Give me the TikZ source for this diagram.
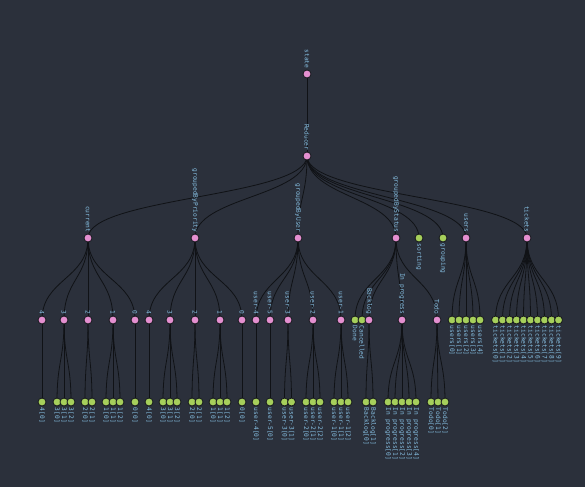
\documentclass[tikz,border=0pt]{standalone}
\usepackage{fontspec}
\setmonofont{DejaVu Sans Mono}
\usetikzlibrary{calc}
\pgfdeclarelayer{back}
\pgfdeclarelayer{bg}
\pgfsetlayers{back,bg,main}
\definecolor{bgc}{HTML}{2B303B}
\definecolor{pinkc}{HTML}{E48FD0}
\definecolor{greenc}{HTML}{A6CF5B}
\definecolor{edgec}{HTML}{101216}
\definecolor{lblc}{HTML}{86BFE2}
\definecolor{rimc}{HTML}{16181D}
\tikzset{
 dot/.style={circle,draw=rimc,line width=0.8pt,minimum size=8pt,inner sep=0pt},
 inn/.style={dot,fill=pinkc},
 lf/.style={dot,fill=greenc},
 lbl/.style={font=\ttfamily\fontsize{6.2}{6.2}\selectfont,text=lblc,inner sep=1.2pt,rotate=-90},
 lblup/.style={lbl,anchor=east},
 lbldn/.style={lbl,anchor=west},
 edge/.style={draw=edgec,line width=0.8pt},
}
\newcommand\IN[4]{\node[inn,label={[lblup]above:{#4}}] (#1) at (#2,#3) {};}
\newcommand\LF[4]{\node[lf,label={[lbldn]below:{#4}}] (#1) at (#2,#3) {};}
\newcommand\LK[2]{\draw[edge] (#1.center) .. controls ($(#1.center)+(0,41)$) and ($(#2.center)+(0,-41)$) .. (#2.center);}
\begin{document}
\begin{tikzpicture}[x=1pt,y=-1pt]
\useasboundingbox (0,0) rectangle (585,487);
\begin{pgfonlayer}{back}
\fill[bgc] (0,0) rectangle (585,487);
\end{pgfonlayer}
% level 0,1
\IN{st}{307}{74}{state}
\IN{rd}{307}{156}{Reducer}
% level 2
\IN{cur}{88}{238}{current}
\IN{gbp}{195}{238}{groupedByPriority}
\IN{gbu}{298}{238}{groupedByUser}
\IN{gbs}{396}{238}{groupedByStatus}
\LF{srt}{419}{238}{sorting}
\LF{grp}{443}{238}{grouping}
\IN{usr}{466}{238}{users}
\IN{tkt}{527}{238}{tickets}
% level 3 current
\IN{c4}{42}{320}{4}
\IN{c3}{64}{320}{3}
\IN{c2}{88}{320}{2}
\IN{c1}{113}{320}{1}
\IN{c0}{135}{320}{0}
% level 3 groupedByPriority
\IN{p4}{149}{320}{4}
\IN{p3}{170}{320}{3}
\IN{p2}{195}{320}{2}
\IN{p1}{220}{320}{1}
\IN{p0}{242}{320}{0}
% level 3 groupedByUser
\IN{u4}{256}{320}{user-4}
\IN{u5}{270}{320}{user-5}
\IN{u3}{288}{320}{user-3}
\IN{u2}{313}{320}{user-2}
\IN{u1}{341}{320}{user-1}
% level 3 groupedByStatus
\LF{sd}{355}{320}{Done}
\LF{sc}{362}{320}{Cancelled}
\IN{sb}{369}{320}{Backlog}
\IN{sp}{402}{320}{In progress}
\IN{stt}{437}{320}{Todo}
% users, tickets leaves
\foreach \i in {0,...,4}{\LF{us\i}{452+7*\i}{320}{users[\i]}}
\foreach \i in {0,...,9}{\LF{tk\i}{495.5+7*\i}{320}{tickets[\i]}}
% level 4
\LF{c4a}{42}{402}{4[0]}
\foreach \i in {0,1,2}{\LF{c3\i}{57+7*\i}{402}{3[\i]}}
\foreach \i in {0,1}{\LF{c2\i}{85+7*\i}{402}{2[\i]}}
\foreach \i in {0,1,2}{\LF{c1\i}{106+7*\i}{402}{1[\i]}}
\LF{c0a}{135}{402}{0[0]}
\LF{p4a}{149}{402}{4[0]}
\foreach \i in {0,1,2}{\LF{p3\i}{163+7*\i}{402}{3[\i]}}
\foreach \i in {0,1}{\LF{p2\i}{192+7*\i}{402}{2[\i]}}
\foreach \i in {0,1,2}{\LF{p1\i}{213+7*\i}{402}{1[\i]}}
\LF{p0a}{242}{402}{0[0]}
\LF{u4a}{256}{402}{user-4[0]}
\LF{u5a}{270}{402}{user-5[0]}
\foreach \i in {0,1}{\LF{u3\i}{284.5+7*\i}{402}{user-3[\i]}}
\foreach \i in {0,1,2}{\LF{u2\i}{306+7*\i}{402}{user-2[\i]}}
\foreach \i in {0,1,2}{\LF{u1\i}{334+7*\i}{402}{user-1[\i]}}
\foreach \i in {0,1}{\LF{sb\i}{366+7*\i}{402}{Backlog[\i]}}
\foreach \i in {0,...,4}{\LF{sp\i}{388+7*\i}{402}{In progress[\i]}}
\foreach \i in {0,1,2}{\LF{st\i}{431+7*\i}{402}{Todo[\i]}}
% edges
\begin{pgfonlayer}{bg}
\LK{st}{rd}
\foreach \n in {cur,gbp,gbu,gbs,srt,grp,usr,tkt}{\LK{rd}{\n}}
\foreach \n in {c4,c3,c2,c1,c0}{\LK{cur}{\n}}
\foreach \n in {p4,p3,p2,p1,p0}{\LK{gbp}{\n}}
\foreach \n in {u4,u5,u3,u2,u1}{\LK{gbu}{\n}}
\foreach \n in {sd,sc,sb,sp,stt}{\LK{gbs}{\n}}
\foreach \i in {0,...,4}{\LK{usr}{us\i}}
\foreach \i in {0,...,9}{\LK{tkt}{tk\i}}
\LK{c4}{c4a}
\foreach \i in {0,1,2}{\LK{c3}{c3\i}}
\foreach \i in {0,1}{\LK{c2}{c2\i}}
\foreach \i in {0,1,2}{\LK{c1}{c1\i}}
\LK{c0}{c0a}
\LK{p4}{p4a}
\foreach \i in {0,1,2}{\LK{p3}{p3\i}}
\foreach \i in {0,1}{\LK{p2}{p2\i}}
\foreach \i in {0,1,2}{\LK{p1}{p1\i}}
\LK{p0}{p0a}
\LK{u4}{u4a}
\LK{u5}{u5a}
\foreach \i in {0,1}{\LK{u3}{u3\i}}
\foreach \i in {0,1,2}{\LK{u2}{u2\i}}
\foreach \i in {0,1,2}{\LK{u1}{u1\i}}
\foreach \i in {0,1}{\LK{sb}{sb\i}}
\foreach \i in {0,...,4}{\LK{sp}{sp\i}}
\foreach \i in {0,1,2}{\LK{stt}{st\i}}
\end{pgfonlayer}
\end{tikzpicture}
\end{document}
